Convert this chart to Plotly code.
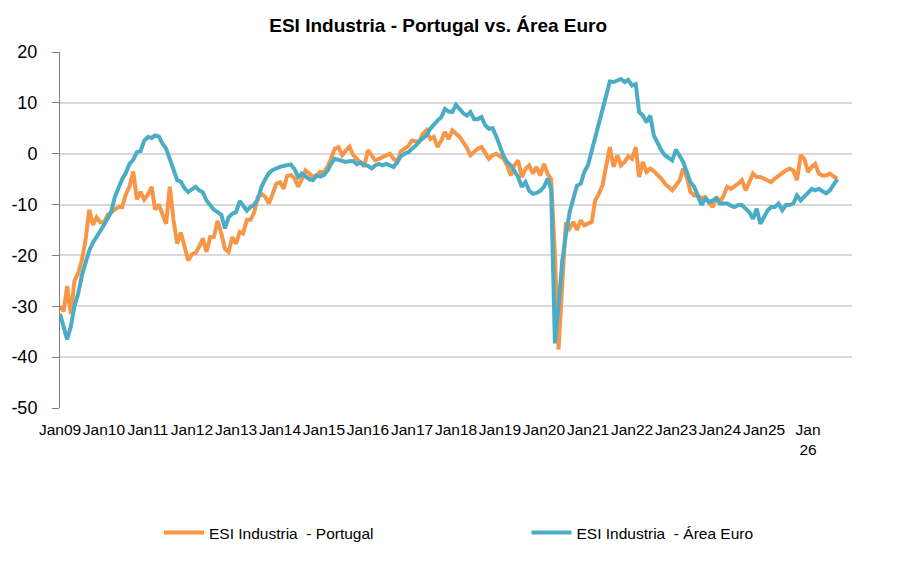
import pandas as pd
import plotly.graph_objects as go

# ESI Industria (saldo de respostas), mensal desde Jan 2009
portugal = [
    -30, -31, -26, -31.5, -25, -23.5, -21, -17, -11, -14, -12.5, -13.5,  # 2009
    -13.5, -12, -11.5, -11, -10.5, -10.5, -8, -6.5, -3.5, -9, -7.5, -9,  # 2010
    -8, -6.5, -11, -10, -12, -13.8, -6.5, -13, -17.7, -15.5, -18.3, -21,  # 2011
    -19.8, -19.5, -18.3, -16.7, -19.3, -16.4, -16.4, -13.2, -15.7, -18.7, -19.3, -16.4,  # 2012
    -17.7, -15.4, -15.7, -13, -13, -11.5, -8.5, -7.9, -8.5, -9.8, -7.9, -5.9,  # 2013
    -5.6, -6.9, -4.4, -4.2, -4.8, -6.5, -5, -3.3, -3.9, -4.6, -4.2, -3.6,  # 2014
    -3.6, -2.5, -1, 1, 1.3, -0.3, 0.6, 1.4, -0.3, -1, -1.8, -2.5,  # 2015
    0.7, -0.5, -1.3, -1, -0.6, -0.3, 0, -1, -1.6, 0.5, 1, 1.5,  # 2016
    2.6, 2.5, 2.3, 3.9, 4.6, 2.9, 3.3, 1.3, 2.6, 4.3, 2.9, 4.6,  # 2017
    4.0, 3.3, 2.3, 1.2, -0.3, 0.4, 1, 1.3, 0, -1, -0.3, 0,  # 2018
    -0.5, -1, -2.3, -4.3, -2.3, -1.3, -4.6, -3, -2.3, -3.9, -2.6, -4.3,  # 2019
    -2, -4, -5, -20, -38.5, -25, -13.5, -14.7, -13.4, -15, -13.1, -14.1,  # 2020
    -13.7, -13.4, -9.2, -7.9, -6.2, -2, 1.3, -2.6, -0.3, -2.3, -1.6, -0.5,  # 2021
    -1, 1.3, -4.6, -1.6, -3.6, -2.9, -3.4, -4.2, -4.9, -5.9, -6.6, -7.2,  # 2022
    -6.2, -5.2, -2.9, -4.6, -7.5, -8.2, -8.2, -8.8, -8.5, -9.5, -10.5, -8.5,  # 2023
    -9.5, -8.2, -6.5, -6.9, -6.5, -5.9, -5.2, -7.2, -5.6, -3.9, -4.6, -4.6,  # 2024
    -4.9, -5.3, -5.6, -4.9, -4.3, -3.8, -3.3, -2.9, -3.3, -5.2, -0.3, -1,  # 2025
    -3.6, -2.6, -2, -3.9, -4.3, -4.3, -3.9, -4.5, -4.9,  # 2026
]

area_euro = [
    -31.5, -34.5, -36.5, -34, -30, -27.5, -24, -21.5, -19, -17.5, -16.5, -15.2,  # 2009
    -14, -12.8, -11.5, -8.5, -6.5, -5, -3.8, -2, -1.2, 0.3, 0.5, 2.6,  # 2010
    3.3, 3.1, 3.6, 3.4, 2, 1, -1, -3, -5.2, -5.5, -6.8, -7.5,  # 2011
    -7, -6.5, -7.2, -7.6, -9.2, -10, -11, -11.5, -12, -14.7, -12.5, -11.8,  # 2012
    -11.5, -9.3, -10.3, -11.2, -10.5, -10, -9, -6.5, -5, -3.8, -3.2, -2.8,  # 2013
    -2.6, -2.4, -2.2, -2.1, -3.0, -4.6, -3.9, -4.5, -5, -5.2, -4.3, -4.5,  # 2014
    -4.2, -3.3, -2, -1, -1.3, -1.4, -1.6, -1.5, -1.4, -2.1, -1.7, -2.2,  # 2015
    -2.4, -2.9, -2.3, -2, -2.3, -2, -2.2, -2.6, -1.6, -0.5, 0, 0.3,  # 2016
    1.0, 1.6, 2.4, 2.9, 3.6, 4.9, 5.8, 6.5, 7.2, 8.8, 8.3, 8.2,  # 2017
    9.6, 8.6, 8, 7.5, 8.2, 6.8, 6.8, 7.2, 5.6, 4.9, 5, 3.4,  # 2018
    1.2, -0.5, -1.6, -2.3, -3.4, -4.6, -6.5, -5.6, -7.3, -7.9, -7.7, -7.3,  # 2019
    -6.5, -4.9, -7, -37.3, -30, -21, -16, -11.5, -8.8, -6.3, -5.9, -3.6,  # 2020
    -2.2, 0.5, 3.5, 6.2, 8.5, 11, 14.2, 14.1, 14.4, 14.7, 14.1, 14.5,  # 2021
    13.4, 13.7, 8.2, 7.5, 6.2, 7.5, 3.6, 2.0, 0.7, -0.3, -0.8, -1.3,  # 2022
    0.8, -0.5, -1.6, -3.6, -5.6, -6.5, -8.5, -10.1, -8.8, -9.5, -9.2, -8.8,  # 2023
    -9.8, -9.8, -9.8, -10.2, -10.5, -10.1, -10.1, -10.8, -11.5, -12.8, -10.8, -13.8,  # 2024
    -12.4, -11.1, -10.5, -10.5, -9.8, -11.1, -10.1, -10.1, -9.8, -8.2, -9.2, -8.5,  # 2025
    -7.8, -6.9, -7.2, -6.9, -7.4, -7.8, -7.2, -5.9, -5.0,  # 2026
]

datas = pd.date_range("2009-01-01", periods=len(portugal), freq="MS")

# etiquetas anuais do eixo
anos = pd.date_range("2009-01-01", "2026-01-01", freq="YS")
etiquetas = [f"Jan{a % 100:02d}" for a in anos.year[:-1]] + ["Jan<br>26"]
marcas = pd.date_range("2009-01-01", "2027-01-01", freq="6MS")
valores_y = list(range(-50, 21, 10))
etiquetas_y = [str(v) for v in valores_y]  # hifen simples, como no original

fonte = "Liberation Sans, Arial"
laranja = "#F79646"
azul = "#4BACC6"

fig = go.Figure()
fig.add_trace(go.Scatter(x=datas, y=portugal, mode="lines",
                         name="ESI Industria\u00a0 - Portugal",
                         line=dict(color=laranja, width=4), legend="legend"))
fig.add_trace(go.Scatter(x=datas, y=area_euro, mode="lines",
                         name="ESI Industria\u00a0 - Área Euro",
                         line=dict(color=azul, width=4), legend="legend2"))

rng = ["2009-01-01", "2027-01-01"]
leg = dict(orientation="h", xanchor="left", y=-0.351, yanchor="middle",
           font=dict(size=15.5), bgcolor="rgba(0,0,0,0)", itemwidth=40)
# a página tem 8px de margem no body, por isso a figura é 8px mais pequena
fig.update_layout(
    width=900, height=574,
    paper_bgcolor="white", plot_bgcolor="white",
    margin=dict(l=52, r=56, t=44, b=174, autoexpand=False),
    font=dict(family=fonte, size=16, color="black"),
    title=dict(text="<b>ESI Industria - Portugal vs. Área Euro</b>",
               x=0.478, xref="container", xanchor="center",
               y=0.970, yref="container", yanchor="middle",
               font=dict(size=19, family=fonte)),
    xaxis=dict(type="date", range=rng, showgrid=False, showline=False,
               zeroline=False, tickvals=anos, ticktext=etiquetas,
               tickangle=0, ticks="outside", ticklen=7, tickcolor="white",
               tickfont=dict(size=15.5), automargin=False),
    xaxis2=dict(type="date", range=rng, overlaying="x", anchor="free",
                position=50 / 70, side="bottom", showgrid=False,
                showline=True, linecolor="black", linewidth=1,
                tickvals=marcas, ticks="outside", ticklen=5,
                tickcolor="black", showticklabels=False, zeroline=False),
    yaxis=dict(range=[-50, 20], tickvals=valores_y, ticktext=etiquetas_y,
               showgrid=True, gridcolor="#d9d9d9", gridwidth=1.5,
               zeroline=False, showline=True, linecolor="#7f7f7f",
               linewidth=1, ticks="outside", ticklen=7, tickcolor="#7f7f7f",
               ticklabelstandoff=11, tickfont=dict(size=18), automargin=False),
    legend=dict(leg, x=0.125),
    legend2=dict(leg, x=0.589),
    showlegend=True,
)

fig.write_html("out.html")
